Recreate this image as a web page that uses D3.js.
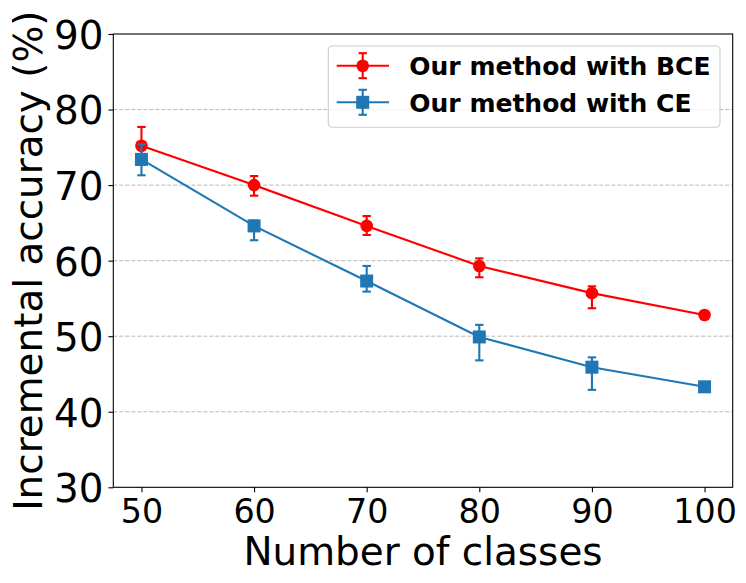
<!DOCTYPE html>
<html>
<head>
<meta charset="utf-8">
<script src="https://cdn.jsdelivr.net/npm/d3@7"></script>
<style>
  body { margin: 0; background: #fff; }
  svg { display: block; font-family: "DejaVu Sans", sans-serif; }
</style>
</head>
<body>
<div id="chart"></div>
<script>
// data
const classes = [50, 60, 70, 80, 90, 100];
const yTicks = [30, 40, 50, 60, 70, 80, 90];

const bceMean = [75.2, 70.0, 64.6, 59.3, 55.7, 52.8];
const bceLow  = [72.7, 68.6, 63.4, 57.8, 53.7, 52.5];
const bceHigh = [77.7, 71.2, 65.9, 60.3, 56.6, 53.1];

const ceMean = [73.4, 64.6, 57.3, 49.9, 45.9, 43.3];
const ceLow  = [71.3, 62.7, 55.9, 46.8, 42.9, 42.8];
const ceHigh = [75.4, 65.3, 59.3, 51.5, 47.2, 43.8];

const seriesNames = ["Our method with BCE", "Our method with CE"];

const width = 746, height = 583;
const margin = {top: 34, right: 13.3, bottom: 95.7, left: 113.3};
const visWidth = width - margin.left - margin.right;
const visHeight = height - margin.top - margin.bottom;

const svg = d3.select("#chart").append("svg")
    .attr("width", width)
    .attr("height", height);

const g = svg.append("g").attr("transform", `translate(${margin.left},${margin.top})`);

const x = d3.scaleLinear().domain([47.5, 102.5]).range([0, visWidth]);
const y = d3.scaleLinear().domain([30, 90]).range([visHeight, 0]);

// grid
g.append("g")
  .selectAll("line")
  .data(yTicks.slice(1, -1))
  .join("line")
    .attr("x1", 0)
    .attr("x2", visWidth)
    .attr("y1", d => y(d))
    .attr("y2", d => y(d))
    .attr("stroke", "#b0b0b0")
    .attr("stroke-width", 0.9)
    .attr("stroke-dasharray", "4,2");

// axes
const xAxis = d3.axisBottom(x).tickValues(classes).tickSize(4.9).tickPadding(4.9);
const yAxis = d3.axisLeft(y).tickValues(yTicks).tickSize(4.9).tickPadding(4.9);

g.append("g")
    .attr("transform", `translate(0,${visHeight})`)
    .call(xAxis)
    .call(a => a.select(".domain").remove())
    .call(a => a.selectAll("line").attr("stroke", "#000").attr("stroke-width", 1.1))
    .call(a => a.selectAll("text")
        .attr("font-size", "33.3px")
        .attr("font-family", "DejaVu Sans")
        .attr("fill", "#000")
        .attr("dy", null)
        .attr("y", 35.4));

g.append("g")
    .call(yAxis)
    .call(a => a.select(".domain").remove())
    .call(a => a.selectAll("line").attr("stroke", "#000").attr("stroke-width", 1.1))
    .call(a => a.selectAll("text")
        .attr("font-size", "38.9px")
        .attr("font-family", "DejaVu Sans")
        .attr("fill", "#000")
        .attr("dy", "0.37em"));

// frame
g.append("rect")
    .attr("width", visWidth)
    .attr("height", visHeight)
    .attr("fill", "none")
    .attr("stroke", "#000")
    .attr("stroke-width", 1.1);

// axis labels
svg.append("text")
    .attr("x", margin.left + visWidth / 2)
    .attr("y", 565)
    .attr("text-anchor", "middle")
    .attr("font-size", "38.9px")
    .text("Number of classes");

svg.append("text")
    .attr("transform", `translate(42,${margin.top + visHeight / 2}) rotate(-90)`)
    .attr("text-anchor", "middle")
    .attr("font-size", "38.9px")
    .text("Incremental accuracy (%)");

const series = [
  {name: seriesNames[0], color: "#ff0000", shape: "circle", mean: bceMean, low: bceLow, high: bceHigh},
  {name: seriesNames[1], color: "#1f77b4", shape: "square", mean: ceMean, low: ceLow, high: ceHigh}
];

const cap = 4.2;

function drawMarker(sel, shape, color) {
  if (shape === "circle") {
    sel.append("circle").attr("r", 6.3).attr("fill", color);
  } else {
    sel.append("rect").attr("x", -6.5).attr("y", -6.5).attr("width", 13).attr("height", 13).attr("fill", color);
  }
}

const line = d3.line().x(d => x(d[0])).y(d => y(d[1]));

series.forEach(s => {
  const pts = classes.map((c, i) => [c, s.mean[i], s.low[i], s.high[i]]);
  const sg = g.append("g");

  sg.append("path")
      .datum(pts)
      .attr("d", line)
      .attr("fill", "none")
      .attr("stroke", s.color)
      .attr("stroke-width", 2.1);

  const eb = sg.append("g").selectAll("g").data(pts).join("g")
      .attr("stroke", s.color)
      .attr("stroke-width", 2.1);
  eb.append("line")
      .attr("x1", d => x(d[0])).attr("x2", d => x(d[0]))
      .attr("y1", d => y(d[2])).attr("y2", d => y(d[3]));
  eb.append("line")
      .attr("x1", d => x(d[0]) - cap).attr("x2", d => x(d[0]) + cap)
      .attr("y1", d => y(d[2])).attr("y2", d => y(d[2]));
  eb.append("line")
      .attr("x1", d => x(d[0]) - cap).attr("x2", d => x(d[0]) + cap)
      .attr("y1", d => y(d[3])).attr("y2", d => y(d[3]));

  sg.append("g").selectAll("g").data(pts).join("g")
      .attr("transform", d => `translate(${x(d[0])},${y(d[1])})`)
      .each(function() { drawMarker(d3.select(this), s.shape, s.color); });
});

// legend
const legend = svg.append("g").attr("transform", "translate(328.3,46)");
legend.append("rect")
    .attr("width", 391.7)
    .attr("height", 81.3)
    .attr("rx", 4)
    .attr("fill", "#fff")
    .attr("fill-opacity", 0.8)
    .attr("stroke", "#cccccc")
    .attr("stroke-width", 1.1);

series.forEach((s, i) => {
  const row = legend.append("g").attr("transform", `translate(0,${19.7 + i * 36.6})`);
  row.append("line").attr("x1", 8.4).attr("x2", 60.7).attr("y1", 0).attr("y2", 0)
      .attr("stroke", s.color).attr("stroke-width", 2.1);
  row.append("line").attr("x1", 34.4).attr("x2", 34.4).attr("y1", -12.5).attr("y2", 12.5)
      .attr("stroke", s.color).attr("stroke-width", 2.1);
  [-12.5, 12.5].forEach(dy => row.append("line")
      .attr("x1", 34.4 - cap).attr("x2", 34.4 + cap).attr("y1", dy).attr("y2", dy)
      .attr("stroke", s.color).attr("stroke-width", 2.1));
  const m = row.append("g").attr("transform", "translate(34.4,0)");
  drawMarker(m, s.shape, s.color);
  row.append("text")
      .attr("x", 81)
      .attr("y", 9.2)
      .attr("font-size", "25px")
      .attr("font-weight", "bold")
      .text(s.name);
});
</script>
</body>
</html>
